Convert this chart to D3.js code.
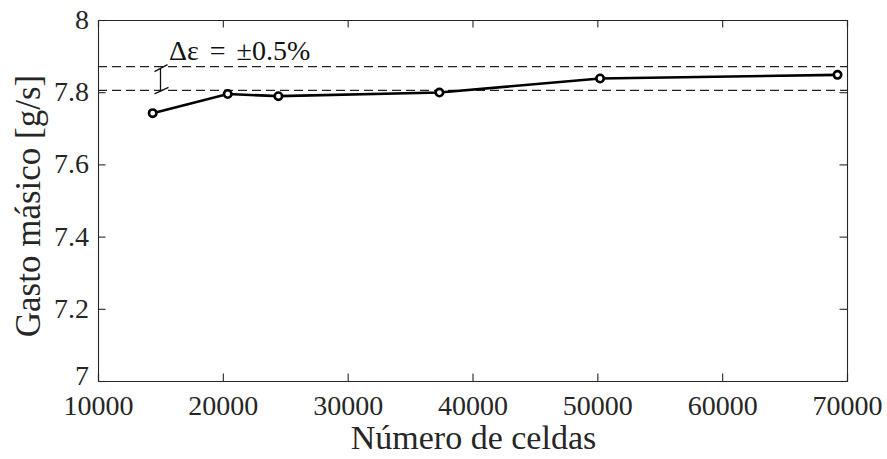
<!DOCTYPE html>
<html>
<head>
<meta charset="utf-8">
<script src="https://cdn.jsdelivr.net/npm/d3@7/dist/d3.min.js"></script>
<style>
  html, body { margin: 0; padding: 0; background: #fff; }
  svg { display: block; }
  svg text { font-family: "Liberation Serif" !important; }
</style>
</head>
<body>
<svg id="chart" width="887" height="459"></svg>
<script>
// Mesh independence study: mass flow vs number of cells
const cells = [14380, 20390, 24450, 37350, 50220, 69240];
const massFlow = [7.742, 7.795, 7.789, 7.799, 7.838, 7.848];
const bandLimits = [7.805, 7.871];
const xTicks = [10000, 20000, 30000, 40000, 50000, 60000, 70000];
const yTicks = [7, 7.2, 7.4, 7.6, 7.8, 8];
const xLabel = "Número de celdas";
const yLabel = "Gasto másico [g/s]";
const bandLabel = "Δε = ±0.5%";

const FONT = "Liberation Serif";
const svg = d3.select("#chart");
const m = { left: 98, right: 847, top: 20, bottom: 381 };
const axisColor = "#262626";

const x = d3.scaleLinear().domain([10000, 70000]).range([m.left, m.right]);
const y = d3.scaleLinear().domain([7, 8]).range([m.bottom, m.top]);

const tickLen = 7.5;

// Bottom axis with inward ticks
const gx = svg.append("g").attr("transform", `translate(0,${m.bottom})`)
  .call(d3.axisBottom(x).tickValues(xTicks).tickSize(-tickLen).tickPadding(14)
    .tickFormat(d3.format("d")));
// Top axis (ticks only)
const gxt = svg.append("g").attr("transform", `translate(0,${m.top})`)
  .call(d3.axisTop(x).tickValues(xTicks).tickSize(-tickLen).tickFormat(""));
// Left axis
const gy = svg.append("g").attr("transform", `translate(${m.left},0)`)
  .call(d3.axisLeft(y).tickValues(yTicks).tickSize(-tickLen).tickPadding(9)
    .tickFormat(d => String(+d.toFixed(1))));
// Right axis (ticks only)
const gyr = svg.append("g").attr("transform", `translate(${m.right},0)`)
  .call(d3.axisRight(y).tickValues(yTicks).tickSize(-tickLen).tickFormat(""));

[gx, gxt, gy, gyr].forEach(g => {
  g.attr("font-family", null).attr("font-size", null);
  g.select(".domain").attr("stroke", axisColor).attr("stroke-width", 1.1);
  g.selectAll(".tick line").attr("stroke", axisColor).attr("stroke-width", 1.1);
  g.selectAll(".tick text").attr("fill", axisColor)
    .attr("font-family", FONT).attr("font-size", 28);
});
gx.selectAll(".tick text").attr("dy", "0.71em");
gy.selectAll(".tick text").attr("dy", "0.3em");
// lowest y label sits slightly above the corner
gy.selectAll(".tick text").filter(d => d === 7).attr("dy", "0.12em");

// Tolerance band (dashed)
svg.append("g").selectAll("line").data(bandLimits).join("line")
  .attr("x1", m.left).attr("x2", m.right)
  .attr("y1", d => y(d)).attr("y2", d => y(d))
  .attr("stroke", "#222").attr("stroke-width", 1.3)
  .attr("stroke-dasharray", "9,5");

// Band annotation: vertical bar with slanted caps
const bx = 160.5;
const ann = svg.append("g").attr("stroke", "#111").attr("stroke-width", 1.3).attr("fill", "none");
ann.append("line").attr("x1", bx).attr("x2", bx)
  .attr("y1", y(bandLimits[1]) + 2).attr("y2", y(bandLimits[0]) + 1);
ann.append("line").attr("x1", bx - 6).attr("x2", bx + 7)
  .attr("y1", y(bandLimits[1]) + 5).attr("y2", y(bandLimits[1]) - 2);
ann.append("line").attr("x1", bx - 6).attr("x2", bx + 8)
  .attr("y1", y(bandLimits[0]) + 3.5).attr("y2", y(bandLimits[0]) - 3);

svg.append("text").attr("x", 169).attr("y", 60)
  .attr("font-family", FONT).attr("font-size", 28).attr("fill", "#111")
  .attr("word-spacing", 4)
  .text(bandLabel);

// Data line and markers
const pts = cells.map((c, i) => [c, massFlow[i]]);
svg.append("path").datum(pts)
  .attr("fill", "none").attr("stroke", "#000").attr("stroke-width", 2.6)
  .attr("d", d3.line().x(d => x(d[0])).y(d => y(d[1])));
svg.append("g").selectAll("circle").data(pts).join("circle")
  .attr("cx", d => x(d[0])).attr("cy", d => y(d[1])).attr("r", 3.7)
  .attr("fill", "#fff").attr("stroke", "#000").attr("stroke-width", 2.6);

// Axis titles
svg.append("text").attr("x", (m.left + m.right) / 2 + 1).attr("y", 449)
  .attr("text-anchor", "middle").attr("fill", "#262626")
  .attr("font-family", FONT).attr("font-size", 34).text(xLabel);
svg.append("text")
  .attr("transform", `translate(40,206) rotate(-90)`)
  .attr("text-anchor", "middle").attr("fill", "#262626")
  .attr("font-family", FONT).attr("font-size", 35).text(yLabel);
</script>
</body>
</html>
